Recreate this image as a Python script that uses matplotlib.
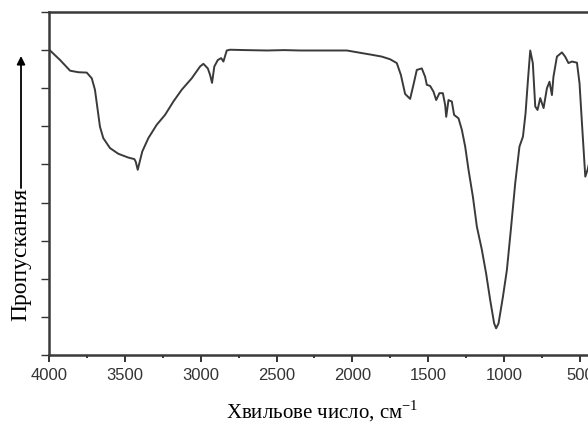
import numpy as np
import matplotlib.pyplot as plt
from matplotlib.ticker import MultipleLocator, NullFormatter

# IR spectrum (wavenumber, cm-1 / transmittance, arb. units)
wavenumber = [3993, 3927, 3861, 3807, 3751, 3718, 3697, 3679, 3664, 3642,
              3598, 3543, 3477, 3437, 3428, 3415, 3402, 3385, 3345, 3290,
              3235, 3180, 3125, 3059, 3004, 2982, 2953, 2938, 2925, 2910,
              2887, 2865, 2850, 2828, 2806, 2700, 2564, 2450, 2344, 2200,
              2036, 1949, 1861, 1806, 1751, 1707, 1680, 1652, 1619, 1597,
              1575, 1542, 1520, 1509, 1487, 1465, 1447, 1426, 1403, 1388,
              1381, 1366, 1344, 1329, 1300, 1278, 1256, 1234, 1205, 1179,
              1146, 1118, 1091, 1065, 1052, 1036, 1007, 981, 955, 926,
              898, 875, 858, 842, 827, 810, 794, 779, 761, 739,
              717, 700, 684, 674, 651, 618, 597, 575, 552, 519,
              502, 486, 464, 449, 418]
transmittance = [7.99, 7.74, 7.46, 7.42, 7.41, 7.26, 6.96, 6.43, 5.99, 5.69,
                 5.43, 5.28, 5.18, 5.14, 5.07, 4.86, 5.07, 5.34, 5.69, 6.04,
                 6.30, 6.65, 6.96, 7.26, 7.57, 7.64, 7.52, 7.35, 7.14, 7.57,
                 7.74, 7.79, 7.70, 7.99, 8.01, 8.00, 7.99, 8.00, 7.99, 7.99,
                 7.99, 7.93, 7.87, 7.83, 7.76, 7.66, 7.35, 6.85, 6.72, 7.09,
                 7.48, 7.52, 7.30, 7.09, 7.06, 6.91, 6.69, 6.87, 6.87, 6.56,
                 6.25, 6.69, 6.65, 6.30, 6.21, 5.91, 5.47, 4.86, 4.15, 3.37,
                 2.76, 2.14, 1.44, 0.83, 0.70, 0.83, 1.53, 2.23, 3.28, 4.51,
                 5.47, 5.73, 6.34, 7.22, 7.99, 7.66, 6.52, 6.43, 6.74, 6.48,
                 7.00, 7.17, 6.82, 7.30, 7.83, 7.94, 7.83, 7.66, 7.70, 7.67,
                 7.13, 6.08, 4.68, 4.86, 5.38]

fig = plt.figure(figsize=(5.88, 4.25), dpi=100)
# axes runs past the right edge of the picture (original is cropped)
ax = fig.add_axes([49 / 588, 70 / 425, 546 / 588, 343 / 425])

ax.plot(wavenumber, transmittance, color='#3a3a3a', lw=1.4)

ax.set_xlim(4000, 400)
ax.set_ylim(0, 9)

ax.xaxis.set_major_locator(MultipleLocator(500))
ax.xaxis.set_minor_locator(MultipleLocator(250))
ax.yaxis.set_major_locator(MultipleLocator(1))
ax.yaxis.set_major_formatter(NullFormatter())

for lab in ax.get_xticklabels():
    lab.set_family('Liberation Sans')
ax.tick_params(axis='x', which='major', direction='out', length=5, width=1.4,
               labelsize=12, pad=4, colors='#333333')
ax.tick_params(axis='x', which='minor', direction='out', length=2.5, width=1.4,
               colors='#333333')
ax.tick_params(axis='y', direction='out', length=6, width=1.0, colors='#333333')

for s in ax.spines.values():
    s.set_linewidth(1.8)
    s.set_color('#3a3a3a')

fig.text(322 / 588, 1 - 411 / 425, 'Хвильове число, см$^{\\mathregular{-1}}$',
         ha='center', va='center', family='Liberation Serif', size=15)

fig.text(21 / 588, 1 - 254 / 425, 'Пропускання', rotation=90, ha='center', va='center',
         family='Liberation Serif', size=17)
ax.annotate('', xy=(21 / 588, 1 - 56 / 425), xytext=(21 / 588, 1 - 188 / 425),
            xycoords='figure fraction', textcoords='figure fraction',
            arrowprops=dict(arrowstyle='-|>', color='black', lw=1.3, mutation_scale=12,
                            shrinkA=0, shrinkB=0))

fig.savefig('out.png', dpi=100)
